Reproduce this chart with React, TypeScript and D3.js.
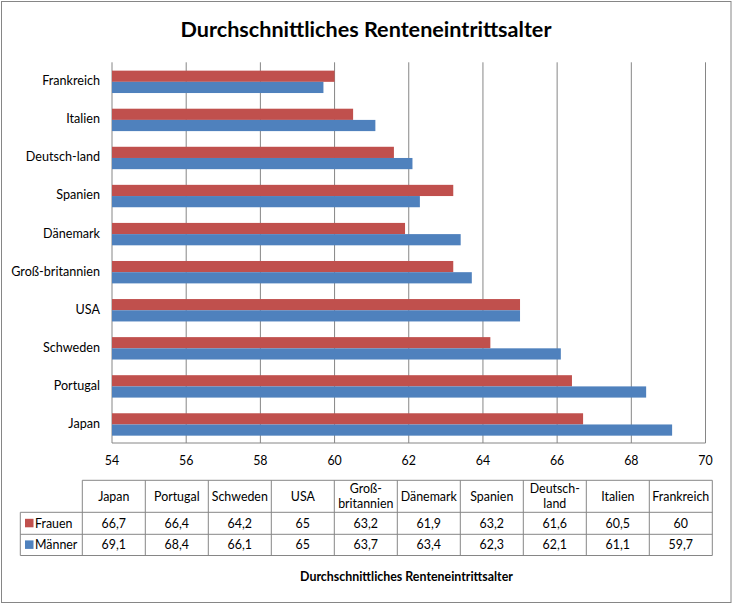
import React from "react";
import * as d3 from "d3";

const categories = ["Japan", "Portugal", "Schweden", "USA", "Groß-britannien", "Dänemark", "Spanien", "Deutsch-land", "Italien", "Frankreich"];
const tableHeaders = [["Japan"], ["Portugal"], ["Schweden"], ["USA"], ["Groß-", "britannien"], ["Dänemark"], ["Spanien"], ["Deutsch-", "land"], ["Italien"], ["Frankreich"]];
const frauen = [66.7, 66.4, 64.2, 65, 63.2, 61.9, 63.2, 61.6, 60.5, 60];
const maenner = [69.1, 68.4, 66.1, 65, 63.7, 63.4, 62.3, 62.1, 61.1, 59.7];
const seriesNames = ["Frauen", "Männer"];
const xTicks = [54, 56, 58, 60, 62, 64, 66, 68, 70];
const title = "Durchschnittliches Renteneintrittsalter";

const W = 735, H = 605;
const RED = "#C0504D", BLUE = "#4F81BD", GRID = "#868686";
const FONT = "Lato, 'Open Sans', sans-serif";

export default function App() {
  const left = 112, right = 705.5, top = 62.3, bottom = 443;
  const x = d3.scaleLinear().domain([54, 70]).range([left, right]);
  const y = d3.scaleBand<string>().domain([...categories].reverse()).range([top, bottom]);
  const barH = 11.2;

  const fmt = (v: number) => String(v).replace(".", ",");

  const tLeft = 20.3, tCol0 = 82.3, colW = 63;
  const tTop = 480.3, hdrB = 512.3, r1B = 534.3, r2B = 555.5;
  const tRight = tCol0 + colW * categories.length;

  return (
    <svg width={W} height={H} style={{ position: "absolute", left: 0, top: 0, background: "#fff" }} fontFamily={FONT}>
      <rect x={1.5} y={1.5} width={729.5} height={601} fill="#fff" stroke={GRID} strokeWidth={1} />
      <text x={366} y={37} textAnchor="middle" fontSize={21.6} fontWeight="bold" fill="#000">{title}</text>

      {xTicks.map((t) => (
        <line key={t} x1={x(t)} x2={x(t)} y1={top} y2={bottom} stroke={GRID} strokeWidth={1} />
      ))}
      <line x1={left} x2={right} y1={bottom} y2={bottom} stroke={GRID} strokeWidth={1} />

      {categories.map((c, i) => {
        const yy = (y(c) as number) + y.bandwidth() / 2 + 0.5;
        return (
          <g key={c}>
            <rect x={x(54)} y={yy - barH} width={x(frauen[i]) - x(54)} height={barH} fill={RED} />
            <rect x={x(54)} y={yy} width={x(maenner[i]) - x(54)} height={barH} fill={BLUE} />
            <text x={100} y={yy - 1} dy="0.35em" textAnchor="end" fontSize={12.6} fill="#000">{c}</text>
          </g>
        );
      })}

      {xTicks.map((t) => (
        <text key={t} x={x(t)} y={465} textAnchor="middle" fontSize={12.4} fill="#000">{t}</text>
      ))}

      {/* data table */}
      <g stroke={GRID} strokeWidth={1} fill="none">
        <line x1={tCol0} x2={tRight} y1={tTop} y2={tTop} />
        <line x1={tLeft} x2={tRight} y1={hdrB} y2={hdrB} />
        <line x1={tLeft} x2={tRight} y1={r1B} y2={r1B} />
        <line x1={tLeft} x2={tRight} y1={r2B} y2={r2B} />
        <line x1={tLeft} x2={tLeft} y1={hdrB} y2={r2B} />
        {d3.range(categories.length + 1).map((k) => (
          <line key={k} x1={tCol0 + k * colW} x2={tCol0 + k * colW} y1={tTop} y2={r2B} />
        ))}
      </g>
      {tableHeaders.map((lines, k) => {
        const cx = tCol0 + k * colW + colW / 2;
        const cy = (tTop + hdrB) / 2;
        return (
          <text key={k} x={cx} textAnchor="middle" fontSize={12.4} fill="#000">
            {lines.map((ln, j) => (
              <tspan key={j} x={cx} y={cy + (j - (lines.length - 1) / 2) * 15} dy="0.35em">{ln}</tspan>
            ))}
          </text>
        );
      })}
      {[frauen, maenner].map((vals, r) => {
        const cy = r === 0 ? (hdrB + r1B) / 2 : (r1B + r2B) / 2;
        return (
          <g key={r}>
            <rect x={25} y={cy - 4.5} width={8.5} height={8.5} fill={r === 0 ? RED : BLUE} />
            <text x={35} y={cy} dy="0.35em" fontSize={12.4} fill="#000">{seriesNames[r]}</text>
            {vals.map((v, k) => (
              <text key={k} x={tCol0 + k * colW + colW / 2} y={cy} dy="0.35em" textAnchor="middle" fontSize={12.4} fill="#000">{fmt(v)}</text>
            ))}
          </g>
        );
      })}

      <text x={406.5} y={581} textAnchor="middle" fontSize={12.4} fontWeight="bold" fill="#000">{title}</text>
    </svg>
  );
}
